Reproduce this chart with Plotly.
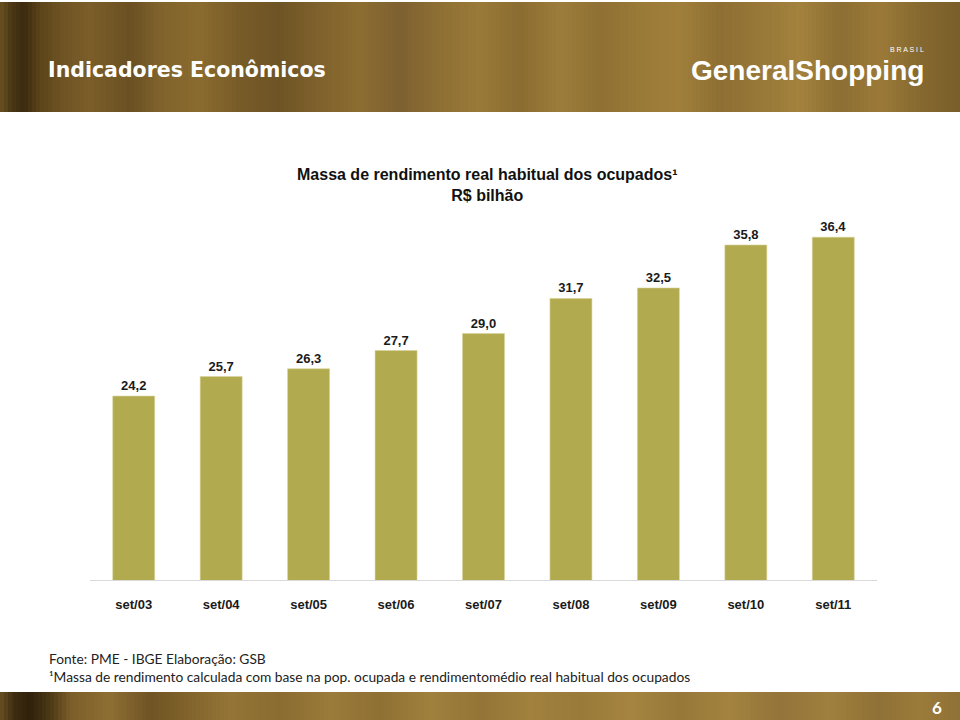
import plotly.graph_objects as go

# ---- data ----
categories = ["set/03", "set/04", "set/05", "set/06", "set/07", "set/08", "set/09", "set/10", "set/11"]
values = [24.2, 25.7, 26.3, 27.7, 29.0, 31.7, 32.5, 35.8, 36.4]

chart_title = "<b>Massa de rendimento real habitual dos ocupados¹<br>R$ bilhão</b>"
header_title = "<b>Indicadores Econômicos</b>"
source_note = "Fonte: PME - IBGE Elaboração: GSB"
foot_note = "¹Massa de rendimento calculada com base na pop. ocupada e rendimentomédio real habitual dos ocupados"
page_number = "6"

# ---- layout geometry (pixels) ----
W, H = 960, 720
L, R, T, B = 90, 877, 189, 580   # plot area edges


def px(x):
    return (x - L) / (R - L)


def py(y):
    return (B - y) / (B - T)


BAR = "#b2aa4e"

fig = go.Figure(
    go.Bar(
        x=categories,
        y=values,
        marker=dict(color=BAR, line=dict(color="#d8d39a", width=0.6)),
        texttemplate="<b>%{y:.1f}</b>",
        textposition="outside",
        textfont=dict(family="Liberation Sans, Arial", size=13, color="#1a1a1a"),
        cliponaxis=False,
        hoverinfo="skip",
    )
)

# decorative gold bands (header + footer), hand-picked colour stops
header_stops = [
    (0, "#6a5123"), (12, "#4a3614"), (24, "#3b2a10"), (40, "#5c4419"), (60, "#6d5223"),
    (90, "#7b5e29"), (130, "#6a5022"), (160, "#80632c"), (200, "#8a6b2f"), (240, "#775b27"),
    (280, "#6e5425"), (320, "#7f622c"), (360, "#8c6d31"), (400, "#7d6030"), (440, "#8e7034"),
    (480, "#9a7a38"), (520, "#8b6c31"), (560, "#9d7d3a"), (600, "#8f7034"), (640, "#9a7a37"),
    (680, "#a07f3b"), (720, "#8e6f33"), (760, "#987838"), (800, "#a3823d"), (840, "#8d6e33"),
    (880, "#9b7a38"), (920, "#86692f"), (960, "#7a5e2a"),
]
footer_stops = [
    (0, "#6a5021"), (14, "#3e2c10"), (30, "#2f210c"), (50, "#4c3816"), (70, "#7a5d29"),
    (110, "#8e6f33"), (150, "#6f5424"), (180, "#7d6029"), (230, "#947537"), (280, "#8a6b31"),
    (330, "#9b7b3a"), (380, "#8f7034"), (430, "#a0803d"), (480, "#957537"), (530, "#a1813d"),
    (580, "#9a7a39"), (630, "#a4843f"), (680, "#98783a"), (730, "#a3833e"), (780, "#93743a"),
    (830, "#a0803d"), (880, "#8f7036"), (920, "#9c7c3a"), (960, "#8f7036"),
]


def hex2rgb(h):
    h = h.lstrip("#")
    return tuple(int(h[i:i + 2], 16) for i in (0, 2, 4))


shapes = []


def add_band(stops, y0, y1, step=4):
    for i in range(len(stops) - 1):
        xa, ca = stops[i]
        xb, cb = stops[i + 1]
        ra, rb = hex2rgb(ca), hex2rgb(cb)
        x = xa
        while x < xb:
            xe = min(x + step, xb)
            t = (x + xe) / 2
            f = (t - xa) / (xb - xa)
            c = tuple(round(ra[k] + (rb[k] - ra[k]) * f) for k in range(3))
            shapes.append(dict(type="rect", xref="paper", yref="paper",
                               x0=px(x), x1=px(xe + 0.5), y0=py(y1), y1=py(y0),
                               fillcolor="rgb(%d,%d,%d)" % c, line=dict(width=0), layer="below"))
            x = xe


add_band(header_stops, 2, 112)
add_band(footer_stops, 692, 720)

annotations = [
    dict(text=chart_title, x=px(487), y=py(185), xref="paper", yref="paper",
         showarrow=False, xanchor="center", yanchor="middle", align="center",
         font=dict(family="Liberation Sans, Arial", size=16, color="#111111")),
    dict(text=header_title, x=px(46), y=py(70), xref="paper", yref="paper",
         showarrow=False, xanchor="left", yanchor="middle",
         font=dict(family="DejaVu Sans", size=20.5, color="#ffffff")),
    dict(text="<b>GeneralShopping</b>", x=px(926), y=py(71), xref="paper", yref="paper",
         showarrow=False, xanchor="right", yanchor="middle",
         font=dict(family="Liberation Sans, Arial", size=28, color="#ffffff")),
    dict(text="B R A S I L", x=px(926), y=py(49), xref="paper", yref="paper",
         showarrow=False, xanchor="right", yanchor="middle",
         font=dict(family="Liberation Sans, Arial", size=7, color="#ffffff")),
    dict(text=source_note, x=px(47), y=py(658), xref="paper", yref="paper",
         showarrow=False, xanchor="left", yanchor="middle",
         font=dict(family="Lato, Open Sans", size=13.75, color="#222222")),
    dict(text=foot_note, x=px(47), y=py(676), xref="paper", yref="paper",
         showarrow=False, xanchor="left", yanchor="middle",
         font=dict(family="Lato, Open Sans", size=13.75, color="#222222")),
    dict(text="<b>" + page_number + "</b>", x=px(937), y=py(707), xref="paper", yref="paper",
         showarrow=False, xanchor="center", yanchor="middle",
         font=dict(family="Lato, Open Sans", size=17, color="#ffffff")),
]

fig.update_layout(
    width=W, height=H,
    margin=dict(l=L, r=W - R, t=T, b=H - B),
    paper_bgcolor="white", plot_bgcolor="white",
    separators=",.",
    bargap=0.52,
    showlegend=False,
    shapes=shapes,
    annotations=annotations,
    xaxis=dict(showline=True, linecolor="#d9d9d9", linewidth=1, ticks="",
               showgrid=False, fixedrange=True,
               tickfont=dict(family="Liberation Sans, Arial", size=13, color="#1a1a1a"),
               tickprefix="<b>", ticksuffix="</b>",
               ticklabelstandoff=12),
    yaxis=dict(range=[10.08, 40.1], visible=False, showgrid=False, fixedrange=True),
)

fig.write_html("out.html", config={"displayModeBar": False},
               post_script="document.body.style.margin='0';document.body.style.padding='0';")
